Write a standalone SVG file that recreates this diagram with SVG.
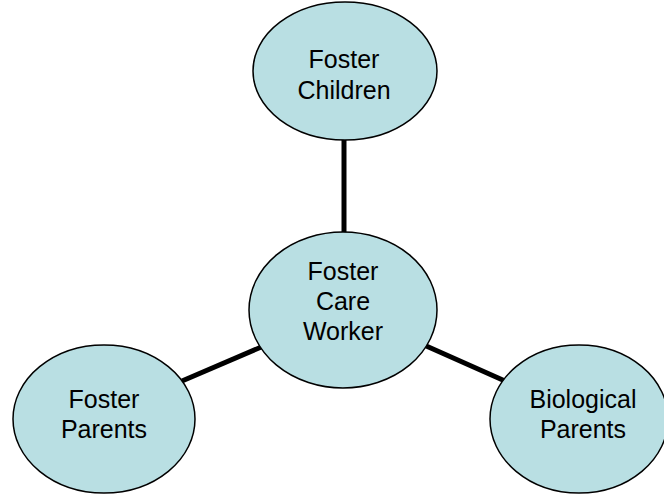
<svg xmlns="http://www.w3.org/2000/svg" width="664" height="494" viewBox="0 0 664 494">
<style>
.node ellipse{fill:#b9dfe3;stroke:#000;stroke-width:1.5}
.node text{font-family:"Liberation Sans",Arial,sans-serif;font-size:25px;fill:#000;text-anchor:middle}
.conn line{stroke:#000;stroke-width:5}
</style>
<rect width="664" height="494" fill="#fff"/>
<g id="connectors" class="conn">
<line x1="344" y1="138" x2="344" y2="233"/>
<line x1="182" y1="381" x2="266" y2="345"/>
<line x1="424" y1="345" x2="505" y2="381"/>
</g>
<g id="foster-children" class="node">
<ellipse cx="345" cy="71" rx="92" ry="69"/>
<text x="344" y="68">Foster</text>
<text x="344" y="99">Children</text>
</g>
<g id="foster-care-worker" class="node">
<ellipse cx="343" cy="310" rx="94" ry="78"/>
<text x="343" y="280">Foster</text>
<text x="343" y="310">Care</text>
<text x="343" y="340">Worker</text>
</g>
<g id="foster-parents" class="node">
<ellipse cx="104" cy="419" rx="91" ry="74"/>
<text x="104" y="408">Foster</text>
<text x="104" y="438">Parents</text>
</g>
<g id="biological-parents" class="node">
<ellipse cx="579" cy="419" rx="89" ry="74"/>
<text x="583" y="408">Biological</text>
<text x="583" y="438">Parents</text>
</g>
</svg>
